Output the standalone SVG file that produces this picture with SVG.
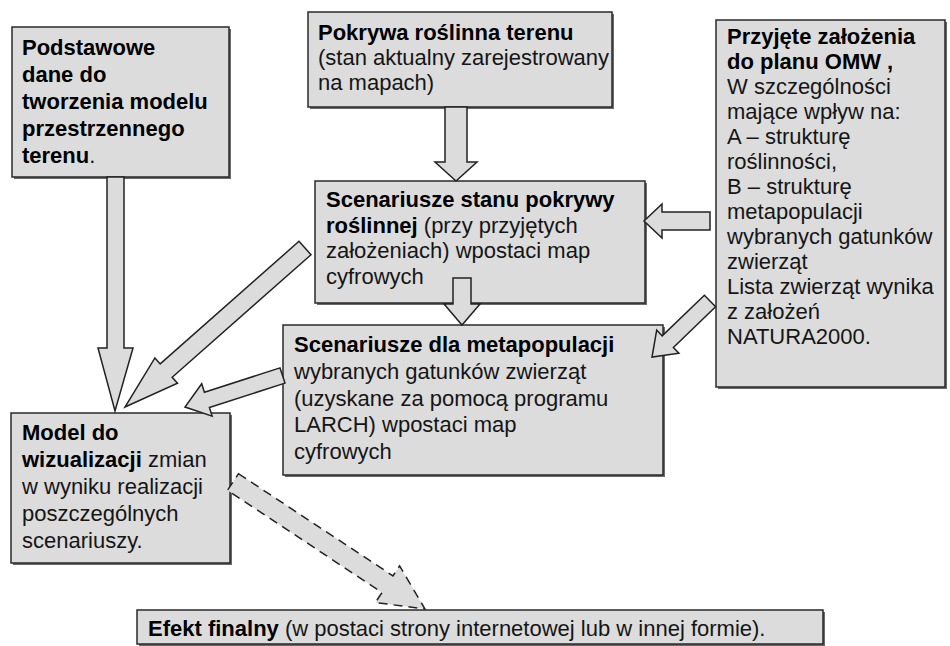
<svg xmlns="http://www.w3.org/2000/svg" width="950" height="646" viewBox="0 0 950 646">
<style>
  .sh{fill:#6a6a6a}
  .bx{fill:#dcdcdc;stroke:#2a2a2a;stroke-width:1.5}
  .arr{fill:#dcdcdc;stroke:#222;stroke-width:1.5;stroke-linejoin:miter}
  .dash{stroke-dasharray:9 6}
  text{font-family:"Liberation Sans",Arial,sans-serif;font-size:22px;fill:#151515}
  .b{font-weight:bold;fill:#000}
</style>
<rect width="950" height="646" fill="#fff"/>

<g id="n-podstawowe">
  <rect class="sh" x="14" y="29" width="217" height="150"/>
  <rect class="bx" x="12" y="27" width="217" height="150"/>
  <text x="22" y="55" class="b">Podstawowe</text>
  <text x="22" y="82" class="b">dane do</text>
  <text x="22" y="109" class="b">tworzenia modelu</text>
  <text x="22" y="136" class="b">przestrzennego</text>
  <text x="22" y="163"><tspan class="b">terenu</tspan>.</text>
</g>

<g id="n-pokrywa">
  <rect class="sh" x="310" y="14" width="304" height="95"/>
  <rect class="bx" x="308" y="12" width="304" height="95"/>
  <text x="318" y="40" class="b">Pokrywa roślinna terenu</text>
  <text x="318" y="65">(stan aktualny zarejestrowany</text>
  <text x="318" y="90">na mapach)</text>
</g>

<g id="n-zalozenia">
  <rect class="sh" x="718" y="22" width="229" height="367"/>
  <rect class="bx" x="716" y="20" width="229" height="367"/>
  <text x="727" y="44" class="b">Przyjęte założenia</text>
  <text x="727" y="69" class="b">do planu OMW ,</text>
  <text x="727" y="94">W szczególności</text>
  <text x="727" y="119">mające wpływ na:</text>
  <text x="727" y="144">A – strukturę</text>
  <text x="727" y="169">roślinności,</text>
  <text x="727" y="194">B – strukturę</text>
  <text x="727" y="219">metapopulacji</text>
  <text x="727" y="244">wybranych gatunków</text>
  <text x="727" y="269">zwierząt</text>
  <text x="727" y="294">Lista zwierząt wynika</text>
  <text x="727" y="319">z założeń</text>
  <text x="727" y="344">NATURA2000.</text>
</g>

<g id="n-scen-pokrywy">
  <rect class="sh" x="317" y="183" width="330" height="122"/>
  <rect class="bx" x="315" y="181" width="330" height="122"/>
  <text x="326" y="207" class="b">Scenariusze stanu pokrywy</text>
  <text x="326" y="233"><tspan class="b">roślinnej</tspan> (przy przyjętych</text>
  <text x="326" y="258">założeniach) wpostaci map</text>
  <text x="326" y="284">cyfrowych</text>
</g>

<g id="n-scen-meta">
  <rect class="sh" x="285" y="327" width="380" height="150"/>
  <rect class="bx" x="283" y="325" width="380" height="150"/>
  <text x="294" y="352" class="b">Scenariusze dla metapopulacji</text>
  <text x="294" y="379">wybranych gatunków zwierząt</text>
  <text x="294" y="406">(uzyskane za pomocą programu</text>
  <text x="294" y="432">LARCH) wpostaci map</text>
  <text x="294" y="459">cyfrowych</text>
</g>

<g id="n-model">
  <rect class="sh" x="13" y="415" width="219" height="150"/>
  <rect class="bx" x="11" y="413" width="219" height="150"/>
  <text x="22" y="440" class="b">Model do</text>
  <text x="22" y="467"><tspan class="b">wizualizacji</tspan> zmian</text>
  <text x="22" y="494">w wyniku realizacji</text>
  <text x="22" y="521">poszczególnych</text>
  <text x="22" y="548">scenariuszy.</text>
</g>

<g id="n-efekt">
  <rect class="sh" x="139" y="612" width="686" height="34"/>
  <rect class="bx" x="137" y="610" width="686" height="34"/>
  <text x="148" y="636"><tspan class="b">Efekt finalny</tspan> (w postaci strony internetowej lub w innej formie).</text>
</g>

<g id="connectors">
  <polygon class="arr" points="107,177 124,177 124,348 133,348 115,411 98,348 107,348"/>
  <polygon class="arr" points="445,107 467,107 467,162 477,162 456,181 435,162 445,162"/>
  <polygon class="arr" points="453,278 471,278 471,304 480,304 462,325 444,304 453,304"/>
  <polygon class="arr" points="710,212 710,230 662,230 662,238 644,221 662,204 662,212"/>
  <polygon class="arr" points="704.4,295.2 662.2,335.9 656.7,330.2 652,357 678.9,353.2 673.4,347.5 715.6,306.8"/>
  <polygon class="arr" points="299,241.3 160.2,363.9 154.9,357.9 125,407 177.5,383.3 172.2,377.3 311,254.7"/>
  <polygon class="arr" points="280,367.9 204.4,392.3 201.7,383.7 185,407 212.1,416.1 209.4,407.5 285,383.1"/>
  <polygon class="arr dash" points="238.5,473.7 393,575.9 399.6,565.9 425,609 375.4,602.5 382,592.5 227.5,490.3"/>
</g>
</svg>
